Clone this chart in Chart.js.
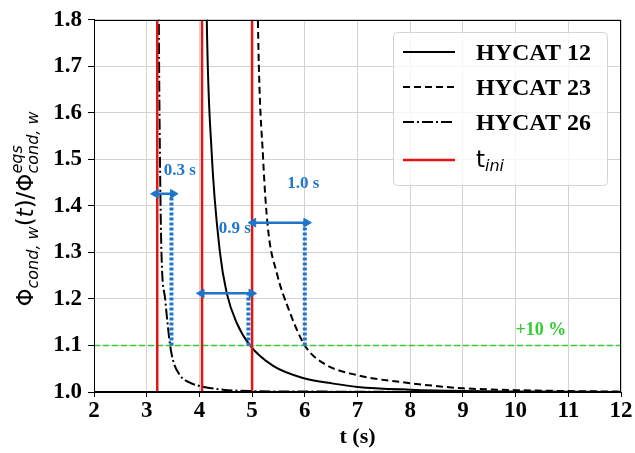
<!DOCTYPE html>
<html>
<head>
<meta charset="utf-8">
<script src="https://cdn.jsdelivr.net/npm/chart.js@4.4.1/dist/chart.umd.min.js"></script>
<style>
html, body { margin: 0; padding: 0; background: #fff; }
#wrap { width: 635px; height: 453px; position: relative; }
</style>
</head>
<body>
<div id="wrap"><canvas id="chart"></canvas></div>
<script>
// 軸の目盛り
const xTicks = [2, 3, 4, 5, 6, 7, 8, 9, 10, 11, 12];
const xTickLabels = ['2', '3', '4', '5', '6', '7', '8', '9', '10', '11', '12'];
const yTicks = [1.0, 1.1, 1.2, 1.3, 1.4, 1.5, 1.6, 1.7, 1.8];
const yTickLabels = ['1.0', '1.1', '1.2', '1.3', '1.4', '1.5', '1.6', '1.7', '1.8'];

// HYCAT 12（実線）
const t12 = [4.10, 4.14, 4.23, 4.39, 4.52, 4.71, 4.96, 5.40, 6.00, 6.54, 7.00, 8.00, 9.00, 10.0, 12.0];
const y12 = [2.20, 1.80, 1.52, 1.30, 1.212, 1.148, 1.100, 1.056, 1.029, 1.018, 1.011, 1.005, 1.002, 1.001, 1.000];

// HYCAT 23（破線）
const t23 = [5.07, 5.11, 5.21, 5.30, 5.47, 5.68, 6.00, 6.35, 7.00, 7.93, 8.57, 9.00, 10.0, 11.0, 12.0];
const y23 = [2.20, 1.80, 1.50, 1.353, 1.255, 1.182, 1.100, 1.062, 1.036, 1.020, 1.012, 1.008, 1.004, 1.002, 1.001];

// HYCAT 26（一点鎖線）
const t26 = [3.215, 3.23, 3.25, 3.28, 3.35, 3.44, 3.50, 3.63, 3.82, 4.04, 4.45, 5.00, 6.00, 12.0];
const y26 = [2.20, 1.80, 1.52, 1.30, 1.20, 1.104, 1.068, 1.036, 1.020, 1.012, 1.005, 1.002, 1.001, 1.000];

// t_ini（赤い縦線）
const tIni = [3.2, 4.05, 5.0];

// +10 % ライン
const limitY = 1.1;

// 応答時間の矢印
const arrowY = [1.426, 1.212, 1.364];
const arrowX0 = [3.17, 4.04, 5.02];
const arrowX1 = [3.50, 4.99, 6.03];
const dotX = [3.47, 4.93, 6.00];
const arrowLabels = ['0.3 s', '0.9 s', '1.0 s'];
const labelX = [3.63, 4.67, 5.97];
const labelY = [1.475, 1.351, 1.447];

const BLUE = '#1f75c9';
const RED = '#e31515';
const GREEN = '#33cc33';
const SERIF = '"Liberation Serif", "Times New Roman", serif';
const SANS = '"DejaVu Sans", sans-serif';

const DASH_23 = [7, 4];
const DASH_26 = [11, 3, 2, 3];

const toPts = (xs, ys) => xs.map((x, i) => ({ x: x, y: ys[i] }));

const datasets = [];

// 曲線
datasets.push({ label: 'HYCAT 12', data: toPts(t12, y12), borderColor: '#000', borderWidth: 2, cubicInterpolationMode: 'monotone', order: 5 });
datasets.push({ label: 'HYCAT 23', data: toPts(t23, y23), borderColor: '#000', borderWidth: 2, borderDash: DASH_23, cubicInterpolationMode: 'monotone', order: 5 });
datasets.push({ label: 'HYCAT 26', data: toPts(t26, y26), borderColor: '#000', borderWidth: 2, borderDash: DASH_26, cubicInterpolationMode: 'monotone', order: 5 });

// 赤線
tIni.forEach(t => {
    datasets.push({ label: 't_ini', data: [{ x: t, y: 1.0 }, { x: t, y: 1.8 }], borderColor: RED, borderWidth: 2.5, order: 3 });
});

// 緑の破線
datasets.push({ label: '+10 %', data: [{ x: 2, y: limitY }, { x: 12, y: limitY }], borderColor: GREEN, borderWidth: 1.6, borderDash: [6, 3], order: 4 });

// 矢印と点線
arrowY.forEach((y, i) => {
    datasets.push({
        label: 'dot' + i,
        data: [{ x: dotX[i], y: limitY }, { x: dotX[i], y: y }],
        borderColor: BLUE, borderWidth: 4, borderDash: [3, 2], borderCapStyle: 'butt', order: 2
    });
    datasets.push({
        label: 'arrow' + i,
        data: [{ x: arrowX0[i], y: y }, { x: arrowX1[i], y: y }],
        borderColor: BLUE, borderWidth: 2.5,
        pointRadius: 5, pointStyle: 'triangle', pointRotation: [270, 90],
        pointBackgroundColor: BLUE, pointBorderColor: BLUE, pointBorderWidth: 1,
        order: 1
    });
});

/**
 * 注釈・凡例・軸タイトルを描くプラグイン
 */
const annotPlugin = {
    id: 'annot',
    afterDraw(chart) {
        const ctx = chart.ctx;
        const xs = chart.scales.x;
        const ys = chart.scales.y;
        const area = chart.chartArea;

        ctx.save();

        // 外枠
        ctx.strokeStyle = '#000';
        ctx.lineWidth = 1;
        ctx.strokeRect(Math.round(area.left) + 0.5, Math.round(area.top) + 0.5,
            Math.round(area.right - area.left) - 1, Math.round(area.bottom - area.top) - 1);

        // 矢印ラベル
        ctx.fillStyle = BLUE;
        ctx.font = 'bold 17px ' + SERIF;
        ctx.textAlign = 'center';
        ctx.textBaseline = 'middle';
        arrowLabels.forEach((s, i) => {
            ctx.fillText(s, xs.getPixelForValue(labelX[i]), ys.getPixelForValue(labelY[i]));
        });

        // +10 %
        ctx.fillStyle = GREEN;
        ctx.font = 'bold 18px ' + SERIF;
        ctx.fillText('+10 %', xs.getPixelForValue(10.48), ys.getPixelForValue(1.133));

        // 凡例
        const lx = 393, ly = 32, lw = 214, lh = 153;
        ctx.beginPath();
        ctx.roundRect(lx + 0.5, ly + 0.5, lw, lh, 4);
        ctx.fillStyle = 'rgba(255,255,255,0.8)';
        ctx.fill();
        ctx.strokeStyle = '#d4d4d4';
        ctx.lineWidth = 1;
        ctx.stroke();

        const rows = [
            { y: 52, color: '#000', dash: [], w: 2, text: 'HYCAT 12' },
            { y: 87, color: '#000', dash: DASH_23, w: 2, text: 'HYCAT 23' },
            { y: 122, color: '#000', dash: DASH_26, w: 2, text: 'HYCAT 26' },
            { y: 160, color: RED, dash: [], w: 2.5, text: null }
        ];
        rows.forEach(r => {
            ctx.beginPath();
            ctx.setLineDash(r.dash);
            ctx.strokeStyle = r.color;
            ctx.lineWidth = r.w;
            ctx.moveTo(403, r.y);
            ctx.lineTo(455, r.y);
            ctx.stroke();
            ctx.setLineDash([]);
            ctx.fillStyle = '#000';
            ctx.textAlign = 'left';
            ctx.textBaseline = 'alphabetic';
            if (r.text) {
                ctx.font = 'bold 24px ' + SERIF;
                ctx.fillText(r.text, 476, r.y + 8);
            } else {
                ctx.font = '23px ' + SANS;
                ctx.fillText('t', 476, r.y + 7);
                const w = ctx.measureText('t').width;
                ctx.font = 'italic 16px ' + SANS;
                ctx.fillText('ini', 476 + w, r.y + 11);
            }
        });

        // x軸タイトル
        ctx.fillStyle = '#000';
        ctx.font = 'bold 22px ' + SERIF;
        ctx.textAlign = 'center';
        ctx.textBaseline = 'middle';
        ctx.fillText('t (s)', (area.left + area.right) / 2, 437);

        // y軸タイトル（添字つき）
        ctx.translate(26, 209);
        ctx.rotate(-Math.PI / 2);
        const big = '23px ' + SANS;
        const bigI = 'italic 23px ' + SANS;
        const small = 'italic 16px ' + SANS;
        const parts = [
            { t: 'Φ', f: big, dy: 0 },
            { t: 'cond, w', f: small, dy: 5 },
            { t: '(', f: big, dy: 0 },
            { t: 't', f: bigI, dy: 0 },
            { t: ')/Φ', f: big, dy: 0 },
            { t: 'eqs', f: small, dy: -11, stack: 'cond, w' }
        ];
        let total = 0;
        parts.forEach(p => {
            ctx.font = p.f;
            let w = ctx.measureText(p.t).width;
            if (p.stack) w = Math.max(w, ctx.measureText(p.stack).width);
            p.w = w;
            total += w;
        });
        let cx = -total / 2;
        ctx.textAlign = 'left';
        ctx.textBaseline = 'alphabetic';
        parts.forEach(p => {
            ctx.font = p.f;
            ctx.fillText(p.t, cx, 7 + p.dy);
            if (p.stack) ctx.fillText(p.stack, cx, 7 + 5);
            cx += p.w;
        });

        ctx.restore();
    }
};

new Chart(document.getElementById('chart'), {
    type: 'line',
    data: { datasets: datasets },
    options: {
        responsive: true,
        maintainAspectRatio: false,
        animation: false,
        layout: { padding: { top: 19, right: 14, left: 0, bottom: 0 } },
        elements: { point: { radius: 0 } },
        plugins: {
            legend: { display: false },
            tooltip: { enabled: false }
        },
        scales: {
            x: {
                type: 'linear',
                min: 2,
                max: 12,
                afterBuildTicks: scale => { scale.ticks = xTicks.map(v => ({ value: v })); },
                afterFit: scale => { scale.height = 61; },
                ticks: {
                    autoSkip: false,
                    maxRotation: 0,
                    padding: 0,
                    color: '#000',
                    font: { family: SERIF, size: 23, weight: 'bold' },
                    callback: (v, i) => xTickLabels[i]
                },
                grid: { color: '#d2d2d2', lineWidth: 1, tickLength: 5, tickColor: '#000' },
                border: { color: '#000', width: 1 }
            },
            y: {
                type: 'linear',
                min: 1.0,
                max: 1.8,
                afterBuildTicks: scale => { scale.ticks = yTicks.map(v => ({ value: v })); },
                afterFit: scale => { scale.width = 94; },
                ticks: {
                    autoSkip: false,
                    padding: 6,
                    color: '#000',
                    font: { family: SERIF, size: 23, weight: 'bold' },
                    callback: (v, i) => yTickLabels[i]
                },
                grid: { color: '#d2d2d2', lineWidth: 1, tickLength: 6, tickColor: '#000' },
                border: { color: '#000', width: 1 }
            }
        }
    },
    plugins: [annotPlugin]
});
</script>
</body>
</html>
